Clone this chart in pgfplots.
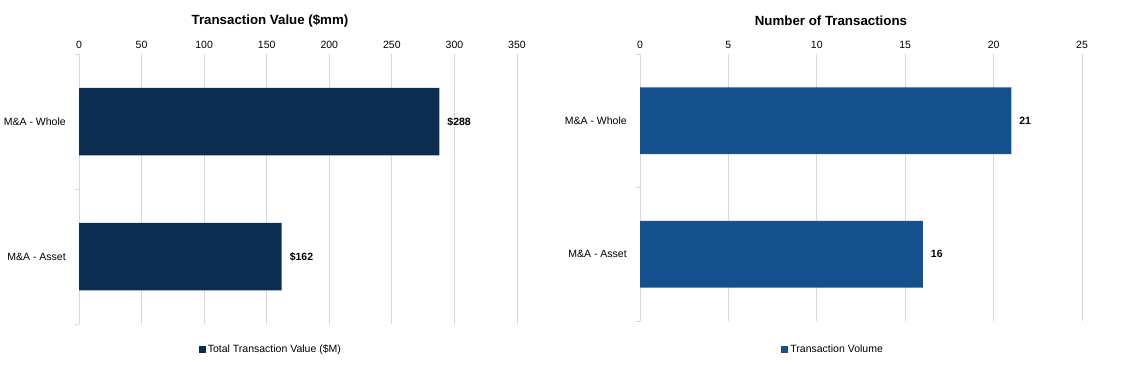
\documentclass[border=0pt]{standalone}
\usepackage{pgfplots}
\pgfplotsset{compat=1.18}
\usepackage{fontspec}
\setmainfont{Liberation Sans}
\definecolor{navy}{HTML}{0C2D50}
\definecolor{mblue}{HTML}{15528D}
\definecolor{gridc}{HTML}{D9D9D9}
\pgfplotsset{
  mystyle/.style={
    scale only axis,
    xbar, bar width=0.5,
    axis x line*=top, axis y line*=left,
    x axis line style={draw=none},
    y axis line style={draw=gridc, line width=0.8pt},
    ymin=0.5, ymax=2.5,
    ytick={1,2}, yticklabels={M\&A - Asset, M\&A - Whole},
    y tick style={draw=none},
    x tick style={draw=none},
    extra y ticks={0.5,1.5,2.5}, extra y tick labels={},
    extra y tick style={y tick style={draw=gridc, line width=0.8pt}, major tick length=4pt, tick align=outside, ymajorgrids=false},
    xmajorgrids, major grid style={draw=gridc, line width=0.8pt},
    enlargelimits=false,
    tick label style={font=\fontsize{10.5}{12}\selectfont},
    yticklabel style={xshift=-5.5pt},
    xticklabel style={yshift=2pt},
    /pgf/number format/assume math mode=true,
    point meta=x,
    nodes near coords style={font=\bfseries\fontsize{10.5}{12}\selectfont, anchor=west, xshift=4.5pt},
    title style={anchor=center, font=\bfseries\fontsize{13.3}{15}\selectfont},
    legend style={anchor=center, draw=none, fill=none, font=\fontsize{10.5}{12}\selectfont},
    legend image code/.code={\fill[##1] (0pt,-3.5pt) rectangle (7pt,3.5pt);},
  }
}
\begin{document}
\begin{tikzpicture}
\useasboundingbox (0,0) rectangle (1146pt,365pt);
\begin{axis}[mystyle,
  at={(79pt,41pt)}, anchor=south west,
  width=438pt, height=270pt,
  xmin=0, xmax=350, xtick={0,50,...,350},
  title={Transaction Value (\$mm)},
  title style={at={(axis description cs:0.436,1.102)}},
  legend style={at={(axis description cs:0.438,-0.0926)}},
  nodes near coords={\$\pgfmathprintnumber{\pgfplotspointmeta}},
]
\addplot[fill=navy, draw=none] coordinates {(162,1) (288,2)};
\addlegendentry{Total Transaction Value (\$M)}
\end{axis}
\begin{axis}[mystyle,
  at={(640pt,44pt)}, anchor=south west,
  width=442pt, height=267pt,
  xmin=0, xmax=25, xtick={0,5,...,25},
  title={Number of Transactions},
  title style={at={(axis description cs:0.432,1.103)}},
  legend style={at={(axis description cs:0.437,-0.105)}},
  nodes near coords={\pgfmathprintnumber{\pgfplotspointmeta}},
]
\addplot[fill=mblue, draw=none] coordinates {(16,1) (21,2)};
\addlegendentry{Transaction Volume}
\end{axis}
\end{tikzpicture}
\end{document}
